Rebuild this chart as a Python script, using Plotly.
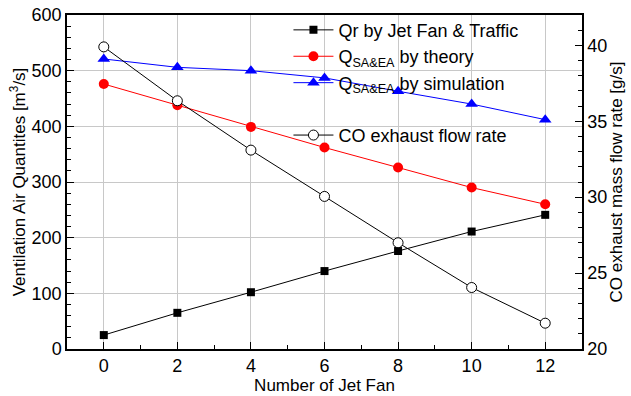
import plotly.graph_objects as go

jet_fans = [0, 2, 4, 6, 8, 10, 12]
qr_jetfan = [25, 65, 102, 140, 176, 211, 241]
q_theory = [476, 438, 399, 362, 326, 290, 260]
q_simulation = [521, 506, 500, 487, 463, 440, 412]
co_exhaust = [39.9, 36.35, 33.1, 30.05, 27.0, 24.05, 21.7]

FONT = "Liberation Sans, Arial, sans-serif"

fig = go.Figure()
fig.add_trace(go.Scatter(x=jet_fans, y=qr_jetfan, mode="lines+markers",
                         name="Qr by Jet Fan &amp; Traffic", legendgroup="a",
                         line=dict(color="black", width=1),
                         marker=dict(symbol="square", size=8, color="black")))
fig.add_trace(go.Scatter(x=jet_fans, y=q_theory, mode="lines+markers",
                         name="Q<sub>SA&amp;EA</sub> by theory", legendgroup="a",
                         line=dict(color="red", width=1),
                         marker=dict(symbol="circle", size=10, color="red")))
fig.add_trace(go.Scatter(x=jet_fans, y=q_simulation, mode="lines+markers",
                         name="Q<sub>SA&amp;EA</sub> by simulation", legendgroup="a",
                         line=dict(color="blue", width=1),
                         marker=dict(symbol="triangle-up", size=11, color="blue")))
fig.add_trace(go.Scatter(x=jet_fans, y=co_exhaust, mode="lines+markers",
                         name="CO exhaust flow rate", legendgroup="b", yaxis="y2",
                         line=dict(color="black", width=1),
                         marker=dict(symbol="circle", size=10, color="white",
                                     line=dict(color="black", width=1))))

axis_common = dict(showline=True, linecolor="black", linewidth=1.5,
                   ticks="inside", ticklen=7, tickcolor="black",
                   tickfont=dict(family=FONT, size=18, color="black"),
                   zeroline=False, automargin=False)

fig.update_layout(
    width=631, height=396,
    margin=dict(l=67, r=49, t=15, b=47),
    paper_bgcolor="white", plot_bgcolor="white",
    font=dict(family=FONT, size=17, color="black"),
    xaxis=dict(range=[-1, 13], tick0=0, dtick=2, mirror=True,
               showgrid=True, gridcolor="#c8c8c8", gridwidth=1,
               minor=dict(tick0=0, dtick=1, ticks="inside",
                          ticklen=4, tickcolor="black", showgrid=False),
               title=dict(text="Number of Jet Fan", font=dict(family=FONT, size=17),
                          standoff=0),
               **axis_common),
    yaxis=dict(range=[0, 600], dtick=100, showgrid=True, gridcolor="#c8c8c8",
               gridwidth=1,
               minor=dict(dtick=20, ticks="inside", ticklen=4, tickcolor="black",
                          showgrid=False),
               title=dict(text="Ventilation Air Quantites [m<sup>3</sup>/s]",
                          font=dict(family=FONT, size=17), standoff=2),
               **axis_common),
    yaxis2=dict(range=[20, 42], tickvals=[20, 25, 30, 35, 40], overlaying="y",
                side="right", showgrid=False,
                minor=dict(dtick=1, ticks="inside", ticklen=4, tickcolor="black"),
                title=dict(text="CO exhaust mass flow rate [g/s]",
                           font=dict(family=FONT, size=17), standoff=4),
                **axis_common),
    legend=dict(x=0.43, y=1.01, xanchor="left", yanchor="top",
                bgcolor="rgba(0,0,0,0)", borderwidth=0,
                font=dict(family=FONT, size=18, color="black"),
                tracegroupgap=26, traceorder="grouped", itemwidth=40),
    showlegend=True,
)

fig.write_html("out.html")
